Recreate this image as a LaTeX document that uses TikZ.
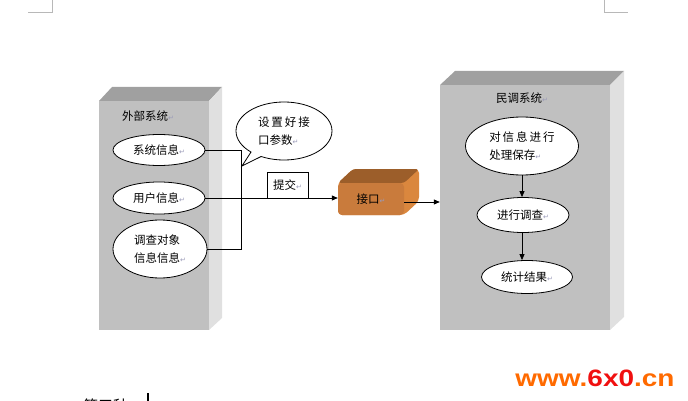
\documentclass[tikz,border=0pt]{standalone}
\usepackage{fontspec}
\setmainfont{Noto Sans CJK SC}
\newfontfamily\dvfont{DejaVu Sans}
\newfontfamily\wmfont{Liberation Sans}
\usetikzlibrary{shapes.geometric,shapes.callouts,arrows.meta}
\definecolor{topgray}{HTML}{A0A0A0}
\definecolor{frontgray}{HTML}{C0C0C0}
\definecolor{sidegray}{HTML}{E0E0E0}
\definecolor{btop}{HTML}{9C5E2A}
\definecolor{bfront}{HTML}{C97B3C}
\definecolor{bside}{HTML}{DA873E}
\definecolor{retc}{HTML}{9A9AB8}
\definecolor{marks}{HTML}{B8B8B8}
\definecolor{wmorange}{HTML}{FF6A00}
\definecolor{wmred}{HTML}{F01010}
\newcommand\retmark{{\dvfont\fontsize{7}{7}\selectfont\textcolor{retc}{↵}}}
\begin{document}
\begin{tikzpicture}[x=1pt,y=-1pt,
  oval/.style={ellipse, draw=black, line width=0.8pt, fill=white, inner sep=0pt,
    font=\fontsize{11.5}{18}\selectfont},
  lbl/.style={font=\fontsize{11.5}{18}\selectfont, inner sep=0pt},
  conn/.style={draw=black, line width=0.8pt},
  arr/.style={conn, -{Triangle[length=6pt,width=5pt]}},
  face/.style={inner sep=0pt, draw=none}]
\useasboundingbox (0,0) rectangle (688,401);
% page corner marks
\draw[marks, line width=0.8pt] (52,0) -- (52,12.5) -- (28,12.5);
\draw[marks, line width=0.8pt] (604,0) -- (604,12.5) -- (628,12.5);

% left box (external system)
\fill[topgray] (99,101) -- (112,87) -- (222,87) -- (209,101) -- cycle;
\fill[sidegray] (209,101) -- (222,87) -- (222,318) -- (209,330) -- cycle;
\node[face, fill=frontgray, minimum width=110, minimum height=229] (lbox) at (154,215.5) {};
\node[lbl] (ltitle) at (148,116) {外部系统\retmark};

% right box
\fill[topgray] (440,85) -- (455,71) -- (624,71) -- (610,85) -- cycle;
\fill[sidegray] (610,85) -- (624,71) -- (624,317) -- (610,330) -- cycle;
\node[face, fill=frontgray, minimum width=170, minimum height=245] (rbox) at (525,207.5) {};
\node[lbl] (rtitle) at (522,98) {民调系统\retmark};

% left ellipses
\node[oval, minimum width=92, minimum height=31] (e1) at (159,150) {系统信息\retmark};
\node[oval, minimum width=92, minimum height=32] (e2) at (159,198) {用户信息\retmark};
\node[oval, minimum width=94, minimum height=58, align=left] (e3) at (160,249) {调查对象\\信息信息\retmark};

% callout
\coordinate (tip) at (242,166);
\node[ellipse callout, draw=black, line width=0.8pt, fill=white, inner sep=0pt,
  minimum width=96, minimum height=58, callout absolute pointer={(tip)},
  font=\fontsize{11.5}{18}\selectfont, align=left] (callout) at (284,131)
  {设\hspace{2pt}置\hspace{2pt}好\hspace{2pt}接\\口参数\retmark};

% submit box
\node[draw=black, line width=0.8pt, fill=white, minimum width=41, minimum height=26,
  inner sep=0pt, font=\fontsize{11.5}{18}\selectfont] (submit) at (287.5,185.5) {提交\retmark};

% interface block
\fill[bside, rounded corners=4pt] (338,183) -- (353,169) -- (419,169) -- (419,201) -- (404,215) -- (338,215) -- cycle;
\fill[btop, rounded corners=3pt] (338,183) -- (353,169) -- (419,169) -- (404,183) -- cycle;
\fill[bfront, rounded corners=4pt] (338,183) rectangle (404,215);
\node[face, minimum width=66, minimum height=32, font=\fontsize{11.5}{18}\selectfont] (blk) at (371,199) {接口\retmark};

% connectors left
\coordinate (jx) at (241,0);
\coordinate (bout) at ([yshift=-3pt]blk.east);
\draw[conn] (e1.east) -- (e1.east -| jx) -- (e3.east -| jx) -- (e3.east);
\draw[arr] (e2.east) -- (blk.west |- e2.east);
\draw[arr] (bout) -- (rbox.west |- bout);

% right ellipses
\node[oval, minimum width=113, minimum height=58, align=left] (ea) at (522,146)
  {对\hspace{2pt}信\hspace{2pt}息\hspace{2pt}进\hspace{2pt}行\\处理保存\retmark};
\node[oval, minimum width=92, minimum height=35] (eb) at (523,215) {进行调查\retmark};
\node[oval, minimum width=91, minimum height=33] (ec) at (527,277) {统计结果\retmark};
\draw[arr] (ea.south) -- (ea.south |- eb.north);
\draw[arr] (eb.south -| ea.south) -- (ea.south |- ec.north);

% watermark
\node[inner sep=0pt, xscale=1.18, font=\wmfont\bfseries\fontsize{23.7}{24}\selectfont] (wm) at (595,378)
  {\textcolor{wmorange}{www.}\textcolor{wmred}{6x0}\textcolor{wmorange}{.cn}};

% cut-off text at the bottom
\node[anchor=base west, inner sep=0pt, font=\fontsize{15}{15}\selectfont] (third) at (83,411) {第三种};
\draw[line width=1.2pt] (148,393) -- (148,402);
\end{tikzpicture}
\end{document}
